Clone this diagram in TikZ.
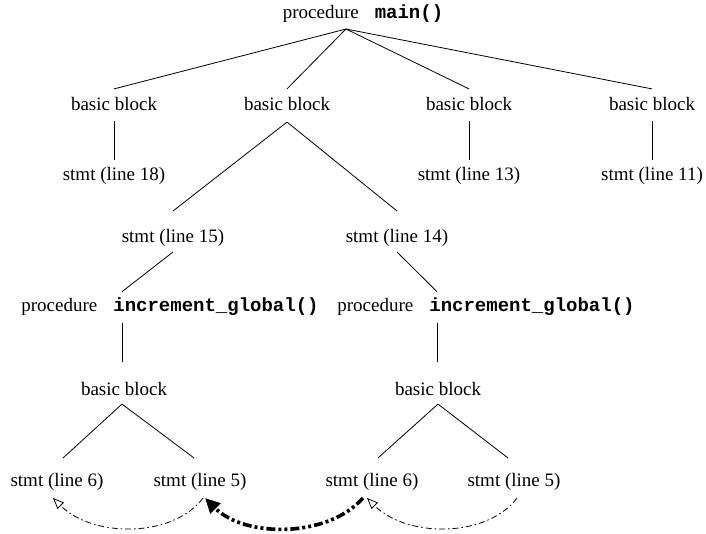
\documentclass[tikz,border=0pt]{standalone}
\usepackage{fontspec}
\setmainfont{Liberation Serif}
\setmonofont{Liberation Mono}
\usetikzlibrary{arrows.meta}

\begin{document}
\begin{tikzpicture}[x=1pt, y=-1pt, font=\fontsize{19}{22}\selectfont,
    line width=0.8pt,
    every node/.style={inner sep=2pt},
    callarc/.style={dash pattern=on 6pt off 3pt on 1.5pt off 3pt,
      -{Triangle[open, length=11pt, width=9pt]}},
    heavyarc/.style={line width=3.6pt,
      dash pattern=on 9pt off 3pt on 3pt off 3pt on 3pt off 3pt,
      -{Triangle[length=15pt, width=14pt]}}]
  \useasboundingbox (0,0) rectangle (706,534);
  % procedure main()
  \node (main) at (363,14) {procedure\hspace{16pt}\texttt{\textbf{main()}}};
  \coordinate (apex) at (346,29);
  % basic blocks of main()
  \node (blk1) at (114,104) {basic block};
  \node (blk2) at (287,104) {basic block};
  \node (blk3) at (469,104) {basic block};
  \node (blk4) at (652,104) {basic block};
  \foreach \b in {blk1,blk2,blk3,blk4}
    \draw (apex) -- ([yshift=6pt]\b.north);
  % statements
  \node (st18) at (114,176) {stmt (line 18)};
  \node (st13) at (469,176) {stmt (line 13)};
  \node (st11) at (652,176) {stmt (line 11)};
  \draw ([yshift=-8pt]blk1.south) -- ([yshift=5pt]st18.north);
  \draw ([yshift=-8pt]blk3.south) -- ([yshift=5pt]st13.north);
  \draw ([yshift=-8pt]blk4.south) -- ([yshift=5pt]st11.north);
  \node (st15) at (173,238) {stmt (line 15)};
  \node (st14) at (397,238) {stmt (line 14)};
  \draw ([yshift=-9pt]blk2.south) -- ([yshift=16pt]st15.north);
  \draw ([yshift=-9pt]blk2.south) -- ([yshift=16pt]st14.north);
  % called procedures
  \node[anchor=west] (procL) at (19,307)
    {procedure\hspace{16pt}\texttt{\textbf{increment\_global()}}};
  \node[anchor=west] (procR) at (335,307)
    {procedure\hspace{16pt}\texttt{\textbf{increment\_global()}}};
  \draw ([yshift=-3pt]st15.south) -- ([xshift=103pt,yshift=4pt]procL.north west);
  \draw ([yshift=-3pt]st14.south) -- ([xshift=102pt,yshift=4pt]procR.north west);
  \node (blkL) at (124,389) {basic block};
  \node (blkR) at (438,389) {basic block};
  \draw ([xshift=103pt,yshift=-5pt]procL.south west) -- ([xshift=-2pt,yshift=18pt]blkL.north);
  \draw ([xshift=102pt,yshift=-5pt]procR.south west) -- ([xshift=-1pt,yshift=18pt]blkR.north);
  \node (st6L) at (57,482) {stmt (line 6)};
  \node (st5L) at (200,482) {stmt (line 5)};
  \node (st6R) at (372,482) {stmt (line 6)};
  \node (st5R) at (514,482) {stmt (line 5)};
  \draw ([xshift=-2pt,yshift=-6pt]blkL.south) -- ([xshift=6pt,yshift=13pt]st6L.north);
  \draw ([xshift=-2pt,yshift=-6pt]blkL.south) -- ([xshift=-6pt,yshift=13pt]st5L.north);
  \draw ([yshift=-6pt]blkR.south) -- ([xshift=6pt,yshift=13pt]st6R.north);
  \draw ([yshift=-6pt]blkR.south) -- ([xshift=-6pt,yshift=13pt]st5R.north);
  % dependence arcs
  \draw[callarc] ([xshift=3pt,yshift=-5pt]st5L.south)
    .. controls +(-30,40) and +(40,40) .. ([xshift=-4pt,yshift=-5pt]st6L.south);
  \draw[heavyarc] ([xshift=-9pt,yshift=-5pt]st6R.south)
    .. controls +(-35,40) and +(40,40) .. ([xshift=5pt,yshift=-5pt]st5L.south);
  \draw[callarc] ([xshift=3pt,yshift=-5pt]st5R.south)
    .. controls +(-30,40) and +(40,40) .. ([xshift=-5pt,yshift=-5pt]st6R.south);
\end{tikzpicture}
\end{document}
